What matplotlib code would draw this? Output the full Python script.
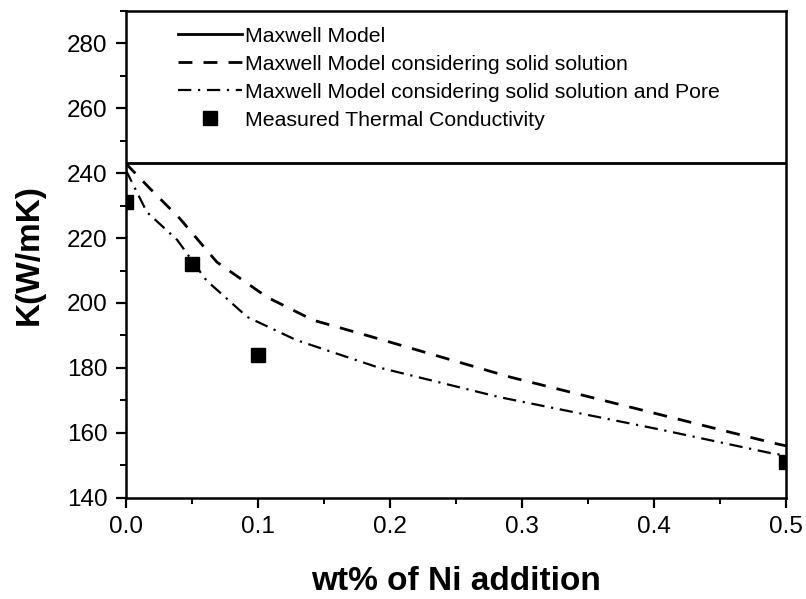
import matplotlib
matplotlib.use("Agg")
import matplotlib.pyplot as plt
from matplotlib.ticker import MultipleLocator, FormatStrFormatter

plt.rcParams['font.family'] = ['Liberation Sans', 'DejaVu Sans']

# Maxwell model (no Ni effect)
maxwell_k = 243

# Maxwell model considering solid solution
ss_x = [0.0, 0.018, 0.041, 0.069, 0.107, 0.142, 0.187, 0.291, 0.399, 0.490, 0.5]
ss_k = [243, 235.4, 226, 212.6, 201.8, 194.7, 189.5, 177.2, 166.2, 156.9, 156]

# Maxwell model considering solid solution and pore
pore_x = [0.0, 0.016, 0.039, 0.061, 0.092, 0.129, 0.190, 0.283, 0.405, 0.488, 0.5]
pore_k = [241, 228, 219.4, 207, 195.7, 188.6, 180.3, 171, 161, 153.8, 153]

# Measured thermal conductivity
meas_x = [0.0, 0.05, 0.1, 0.5]
meas_k = [231, 212, 184, 151]

fig = plt.figure(figsize=(8.06, 5.99), dpi=100)
ax = fig.add_axes([0.156, 0.169, 0.819, 0.813])

ax.axhline(maxwell_k, color='black', lw=2.0, label='Maxwell Model')
ax.plot(ss_x, ss_k, color='black', lw=2.0, dashes=(5, 4),
        label='Maxwell Model considering solid solution')
ax.plot(pore_x, pore_k, color='black', lw=1.6, dashes=(6, 3, 1, 3),
        label='Maxwell Model considering solid solution and Pore')
ax.plot(meas_x, meas_k, linestyle='none', marker='s', color='black',
        markersize=9.5, label='Measured Thermal Conductivity')

ax.set_xlim(0, 0.5)
ax.set_ylim(140, 290)
ax.xaxis.set_major_locator(MultipleLocator(0.1))
ax.xaxis.set_minor_locator(MultipleLocator(0.05))
ax.yaxis.set_major_locator(MultipleLocator(20))
ax.yaxis.set_minor_locator(MultipleLocator(10))
ax.xaxis.set_major_formatter(FormatStrFormatter('%.1f'))

ax.tick_params(which='major', direction='out', length=7, width=1.6,
               labelsize=17.5)
ax.tick_params(axis='x', which='major', pad=6)
ax.tick_params(axis='y', which='major', pad=6)
ax.tick_params(which='minor', direction='out', length=4, width=1.4)
ax.tick_params(top=False, right=False)
for s in ax.spines.values():
    s.set_linewidth(1.8)

ax.set_xlabel('wt% of Ni addition', fontsize=24, fontweight='bold', labelpad=20)
ax.set_ylabel('K(W/mK)', fontsize=24, fontweight='bold', labelpad=16)

ax.legend(loc='upper left', bbox_to_anchor=(0.079, 0.967), frameon=False,
          borderpad=0, borderaxespad=0,
          fontsize=15.3, handlelength=3.0, handletextpad=0.15, labelspacing=0.42)

fig.savefig('out.png', dpi=100)
